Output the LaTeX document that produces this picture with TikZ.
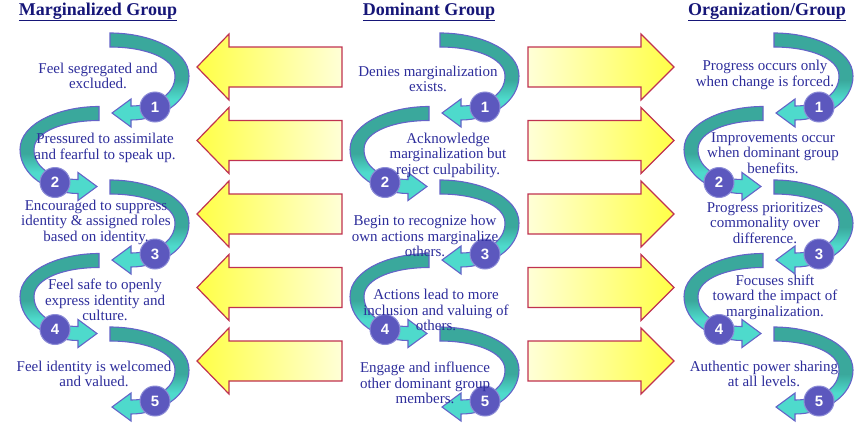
\documentclass[tikz,border=0pt]{standalone}
\usepackage{fontspec}
\setmainfont{Liberation Serif}
\newfontfamily\numfont{Liberation Sans}

\definecolor{headblue}{RGB}{22,22,120}
\definecolor{textblue}{RGB}{45,45,155}
\definecolor{tealdark}{RGB}{58,168,156}
\definecolor{teallight}{RGB}{78,218,204}
\definecolor{swirledge}{RGB}{100,100,200}
\definecolor{dotfill}{RGB}{92,88,190}
\definecolor{dotedge}{RGB}{140,140,215}
\definecolor{arrowedge}{RGB}{192,50,80}
\definecolor{yellowtip}{RGB}{255,255,70}
\definecolor{yellowtail}{RGB}{255,255,215}

\pgfdeclareverticalshading{swirlshade}{100bp}{color(0bp)=(teallight); color(40bp)=(teallight); color(50bp)=(tealdark); color(100bp)=(tealdark)}

% curved step arrow: tip x, tip y, side (1 = bulge right, -1 = bulge left)
\newcommand{\swirl}[3]{%
  \begin{scope}[shift={(#1,#2)}, xscale=#3]
    \shadedraw[swirlband] (-2,-80) .. controls (38,-80) and (77,-63) .. (77,-37)
      .. controls (77,-11) and (48,7) .. (19,7) -- (19,14) -- (0,0) -- (19,-14) -- (19,-7)
      .. controls (43,-7) and (63,-18) .. (63,-37)
      .. controls (63,-55) and (33,-66) .. (-2,-66) -- cycle;
  \end{scope}}

\tikzset{
  swirlband/.style={shading=swirlshade, draw=swirledge, line width=1.1pt},
  dot/.style={circle, fill=dotfill, draw=dotedge, line width=1pt, minimum size=30pt, inner sep=0pt,
    text=white, font=\numfont\bfseries\fontsize{15}{15}\selectfont},
  txt/.style={text=textblue, align=center, inner sep=0pt, font=\fontsize{15}{15.5}\selectfont},
  head/.style={text=headblue, inner sep=0pt, font=\bfseries\fontsize{18}{20}\selectfont},
  block/.style={draw=arrowedge, line width=1.2pt, line join=miter}
}

\begin{document}
\begin{tikzpicture}[x=1pt, y=-1pt]
\useasboundingbox (0,0) rectangle (856,423);

% Headers
\node[head] (mhead) at (98,12) {\underline{Marginalized Group}};
\node[head] (dhead) at (429,12) {\underline{Dominant Group}};
\node[head] (ohead) at (767,12) {\underline{Organization/Group}};

% Block arrows between the columns
\foreach \r in {0,...,4}{
  \pgfmathsetmacro{\yy}{67+73.5*\r}
  \path[block, left color=yellowtip, right color=yellowtail]
    (197,\yy) -- (229,\yy-33) -- (229,\yy-20) -- (342,\yy-20) -- (342,\yy+20)
    -- (229,\yy+20) -- (229,\yy+33) -- cycle;
  \path[block, left color=yellowtail, right color=yellowtip]
    (528,\yy-20) -- (641,\yy-20) -- (641,\yy-33) -- (674,\yy) -- (641,\yy+33)
    -- (641,\yy+20) -- (528,\yy+20) -- cycle;
}

% Curved arrows
\foreach \off in {0,330,664}{
  \foreach \k in {1,...,5}{
    \pgfmathsetmacro{\tipy}{113+73.5*(\k-1)}
    \ifodd\k
      \pgfmathsetmacro{\tipx}{112+\off}
      \swirl{\tipx}{\tipy}{1}
    \else
      \pgfmathsetmacro{\tipx}{97+\off}
      \swirl{\tipx}{\tipy}{-1}
    \fi
  }
}

% Step numbers
\foreach \col/\off in {m/0,d/330,o/664}{
  \foreach \k in {1,...,5}{
    \pgfmathsetmacro{\tipy}{113+73.5*(\k-1)}
    \ifodd\k
      \node[dot] (\col c\k) at (155+\off,\tipy-6) {\k};
    \else
      \node[dot] (\col c\k) at (55+\off,\tipy-4) {\k};
    \fi
  }
}

% Marginalized group
\node[txt] (m1) at (98,76) {Feel segregated and\\excluded.};
\node[txt] (m2) at (105,148) {Pressured to assimilate\\and fearful to speak up.};
\node[txt] (m3) at (96,222) {Encouraged to suppress\\identity \& assigned roles\\based on identity.};
\node[txt] (m4) at (105,300) {Feel safe to openly\\express identity and\\culture.};
\node[txt] (m5) at (94,374) {Feel identity is welcomed\\and valued.};

% Dominant group
\node[txt] (d1) at (428,79) {Denies marginalization\\exists.};
\node[txt] (d2) at (448,155) {Acknowledge\\marginalization but\\reject culpability.};
\node[txt] (d3) at (425,236) {Begin to recognize how\\own actions marginalize\\others.};
\node[txt] (d4) at (436,310) {Actions lead to more\\inclusion and valuing of\\others.};
\node[txt] (d5) at (425,383) {Engage and influence\\other dominant group\\members.};

% Organization / group
\node[txt] (o1) at (765,75) {Progress occurs only\\when change is forced.};
\node[txt] (o2) at (773,153) {Improvements occur\\when dominant group\\benefits.};
\node[txt] (o3) at (765,223) {Progress prioritizes\\commonality over\\difference.};
\node[txt] (o4) at (775,297) {Focuses shift\\toward the impact of\\marginalization.};
\node[txt] (o5) at (764,374) {Authentic power sharing\\at all levels.};
\end{tikzpicture}
\end{document}
